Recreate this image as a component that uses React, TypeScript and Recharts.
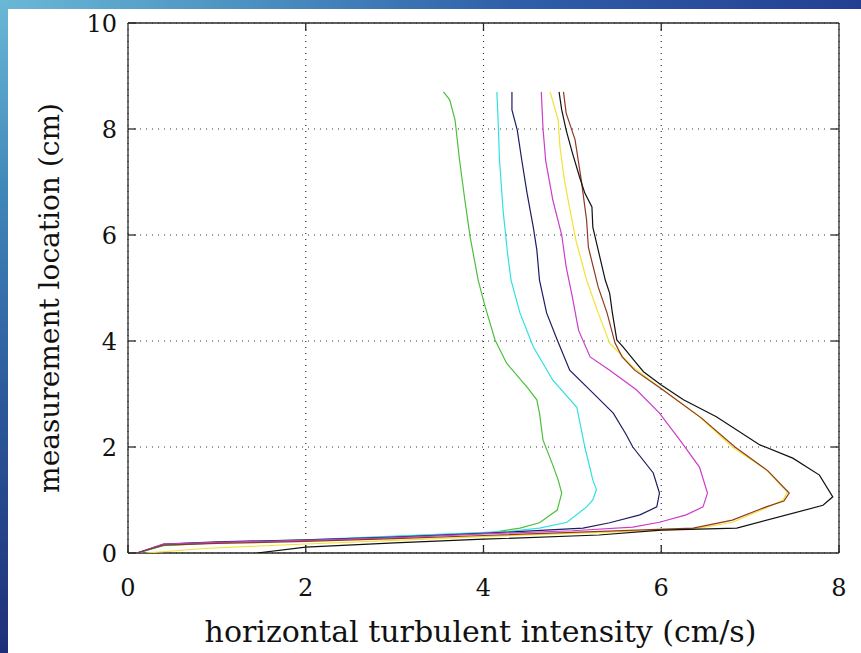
import React from 'react';
import { ScatterChart, Scatter, XAxis, YAxis, CartesianGrid, Label } from 'recharts';

const xTicks = [0, 2, 4, 6, 8];
const yTicks = [0, 2, 4, 6, 8, 10];

const xTitle = 'horizontal turbulent intensity (cm/s)';
const yTitle = 'measurement location (cm)';

// [intensity (cm/s), location (cm)] pairs, traced along each profile
const greenProfile = [[3.55,8.7],[3.62,8.55],[3.68,8.17],[3.73,7.42],[3.79,6.66],[3.85,5.96],[3.94,5.15],[4.02,4.64],[4.13,4.02],[4.26,3.58],[4.49,3.13],[4.6,2.89],[4.63,2.64],[4.67,2.13],[4.77,1.7],[4.84,1.38],[4.88,1.13],[4.83,0.81],[4.63,0.57],[4.41,0.47],[4.07,0.38],[3,0.31],[2,0.24],[1,0.19],[0.4,0.14],[0.1,0]];
const cyanProfile = [[4.15,8.7],[4.16,8.36],[4.18,7.42],[4.22,6.47],[4.27,5.66],[4.31,5.15],[4.41,4.53],[4.56,3.89],[4.78,3.26],[5.05,2.75],[5.14,2.0],[5.23,1.38],[5.27,1.2],[5.23,1.0],[5.16,0.87],[4.94,0.58],[4.63,0.47],[4.3,0.41],[3,0.32],[2,0.25],[1,0.2],[0.4,0.15],[0.12,0]];
const navyProfile = [[4.32,8.7],[4.32,8.36],[4.38,7.98],[4.43,7.42],[4.49,6.79],[4.56,6.15],[4.6,5.72],[4.63,5.15],[4.71,4.53],[4.83,4.02],[4.97,3.45],[5.23,3.02],[5.46,2.64],[5.6,2.25],[5.68,2.0],[5.91,1.51],[5.98,1.13],[5.95,0.87],[5.76,0.72],[5.42,0.57],[5.12,0.47],[4,0.37],[3,0.3],[2,0.25],[1,0.21],[0.4,0.17],[0.1,0]];
const magentaProfile = [[4.65,8.7],[4.67,8.0],[4.7,7.4],[4.78,6.66],[4.88,6.0],[4.93,5.4],[5.0,4.83],[5.07,4.2],[5.2,3.7],[5.42,3.45],[5.72,3.08],[5.98,2.64],[6.21,2.13],[6.43,1.62],[6.52,1.13],[6.47,0.87],[6.28,0.72],[5.98,0.58],[5.68,0.49],[5,0.42],[4,0.36],[3,0.29],[2,0.24],[1,0.2],[0.4,0.17],[0.1,0]];
const yellowProfile = [[4.75,8.7],[4.84,8.17],[4.86,7.67],[4.91,7.04],[4.97,6.5],[5.04,5.9],[5.16,5.15],[5.29,4.53],[5.42,3.96],[5.68,3.51],[5.98,3.13],[6.43,2.57],[6.8,2.0],[7.18,1.57],[7.42,1.15],[7.37,1.0],[7.18,0.85],[6.8,0.58],[6.43,0.47],[6.06,0.43],[5,0.37],[4,0.31],[3,0.24],[2,0.17],[0.9,0.09],[0.2,0]];
const brownProfile = [[4.9,8.7],[4.93,8.3],[5.03,7.8],[5.1,7.04],[5.16,6.28],[5.18,5.77],[5.29,5.02],[5.39,4.53],[5.48,3.96],[5.56,3.7],[5.7,3.45],[6.0,3.1],[6.45,2.55],[6.83,2.0],[7.2,1.55],[7.44,1.13],[7.38,0.98],[7.18,0.87],[6.8,0.62],[6.36,0.47],[5,0.39],[4,0.33],[3,0.27],[2,0.22],[1,0.18],[0.4,0.15],[0.1,0]];
const blackProfile = [[4.85,8.7],[4.88,8.36],[4.93,7.98],[5.0,7.55],[5.08,7.1],[5.14,6.79],[5.22,6.53],[5.23,6.15],[5.29,5.72],[5.37,5.15],[5.42,4.9],[5.45,4.53],[5.5,4.02],[5.57,3.89],[5.71,3.6],[5.8,3.42],[6.0,3.17],[6.25,2.89],[6.62,2.57],[7.11,2.04],[7.48,1.79],[7.78,1.47],[7.93,1.06],[7.82,0.9],[6.85,0.47],[6.0,0.43],[5.3,0.34],[4.0,0.26],[3.0,0.19],[2.0,0.11],[1.45,0]];

const seriesList = [
  { name: 'green', color: '#4cbf3c', pts: greenProfile },
  { name: 'cyan', color: '#2fe0e0', pts: cyanProfile },
  { name: 'navy', color: '#1c1c66', pts: navyProfile },
  { name: 'magenta', color: '#cc3ccc', pts: magentaProfile },
  { name: 'yellow', color: '#f2e232', pts: yellowProfile },
  { name: 'brown', color: '#8e3a22', pts: brownProfile },
  { name: 'black', color: '#111111', pts: blackProfile },
];

const FONT = '"DejaVu Serif", serif';
const AXIS = '#2a2a2a';
const TICK_LEN = 8;

const BottomTick = (props: any) => {
  const { x, y, payload } = props;
  const ay = y - 26;
  return (
    <g>
      <line x1={x} y1={ay} x2={x} y2={ay - TICK_LEN} stroke={AXIS} strokeWidth={1.3} />
      <text x={x} y={y + 17} textAnchor="middle" fontFamily={FONT} fontSize={24} fill="#111">{payload.value}</text>
    </g>
  );
};
const LeftTick = (props: any) => {
  const { x, y, payload } = props;
  const ax = x + 11;
  return (
    <g>
      <line x1={ax} y1={y} x2={ax + TICK_LEN} y2={y} stroke={AXIS} strokeWidth={1.3} />
      <text x={x} y={y + 9} textAnchor="end" fontFamily={FONT} fontSize={24} fill="#111">{payload.value}</text>
    </g>
  );
};
const TopTick = (props: any) => {
  const { x, y } = props;
  return <line x1={x} y1={y} x2={x} y2={y + TICK_LEN} stroke={AXIS} strokeWidth={1.3} />;
};
const RightTick = (props: any) => {
  const { x, y } = props;
  return <line x1={x} y1={y} x2={x - TICK_LEN} y2={y} stroke={AXIS} strokeWidth={1.3} />;
};

const XTitle = (props: any) => {
  const vb = props.viewBox || { x: 128, y: 553, width: 711, height: 40 };
  return (
    <text x={vb.x + vb.width / 2 - 3} y={vb.y + 89} textAnchor="middle" fontFamily={FONT} fontSize={30} fill="#111">{xTitle}</text>
  );
};
const YTitle = (props: any) => {
  const vb = props.viewBox || { x: 68, y: 23, width: 60, height: 530 };
  const cx = vb.x - 9;
  const cy = vb.y + vb.height / 2 + 10;
  return (
    <text x={cx} y={cy} transform={`rotate(-90, ${cx}, ${cy})`} textAnchor="middle" fontFamily={FONT} fontSize={28} fill="#111">{yTitle}</text>
  );
};

const NoDot = () => <g />;

export default function App() {
  return (
    <div style={{ position: 'absolute', left: 0, top: 0, width: 861, height: 653, overflow: 'hidden', background: '#ffffff' }}>
      <div style={{ position: 'absolute', left: 0, top: 0, width: 861, height: 9, background: 'linear-gradient(to right, #6ab8d6 0%, #4a8fc0 30%, #2f5ea8 60%, #243f92 100%)' }} />
      <div style={{ position: 'absolute', left: 0, top: 0, width: 8, height: 653, background: 'linear-gradient(to bottom, #6ab8d6 0%, #3f86b8 30%, #2c5a9c 60%, #1e2f78 100%)' }} />
      <div style={{ position: 'absolute', left: 0, top: 0 }}>
        <ScatterChart width={861} height={653} margin={{ top: 22, right: 21, bottom: 60, left: 68 }}>
          <CartesianGrid xAxisId="b" yAxisId="l" stroke="#333" strokeWidth={1.2} strokeDasharray="1 5" fill="none" />
          <XAxis xAxisId="b" type="number" dataKey="x" domain={[0, 8]} ticks={xTicks} allowDataOverflow
            orientation="bottom" height={40} tickSize={0} tickMargin={26} tickLine={false}
            axisLine={{ stroke: AXIS, strokeWidth: 1.3 }} tick={<BottomTick />} interval={0}>
            <Label content={<XTitle />} />
          </XAxis>
          <XAxis xAxisId="t" type="number" dataKey="x" domain={[0, 8]} ticks={[2, 4, 6]} allowDataOverflow
            orientation="top" height={1} tickSize={0} tickMargin={0} tickLine={false}
            axisLine={{ stroke: AXIS, strokeWidth: 1.3 }} tick={<TopTick />} interval={0} />
          <YAxis yAxisId="l" type="number" dataKey="y" domain={[0, 10]} ticks={yTicks} allowDataOverflow
            orientation="left" width={60} tickSize={0} tickMargin={11} tickLine={false}
            axisLine={{ stroke: AXIS, strokeWidth: 1.3 }} tick={<LeftTick />} interval={0}>
            <Label content={<YTitle />} />
          </YAxis>
          <YAxis yAxisId="r" type="number" dataKey="y" domain={[0, 10]} ticks={[2, 4, 6, 8]} allowDataOverflow
            orientation="right" width={1} tickSize={0} tickMargin={0} tickLine={false}
            axisLine={{ stroke: AXIS, strokeWidth: 1.3 }} tick={<RightTick />} interval={0} />
          {seriesList.map((s) => (
            <Scatter key={s.name} xAxisId="b" yAxisId="l" name={s.name}
              data={s.pts.map(([x, y]) => ({ x, y }))}
              line={{ stroke: s.color, strokeWidth: 1.2 }} lineType="joint"
              shape={<NoDot />} fill="none" isAnimationActive={false} />
          ))}
        </ScatterChart>
      </div>
    </div>
  );
}
